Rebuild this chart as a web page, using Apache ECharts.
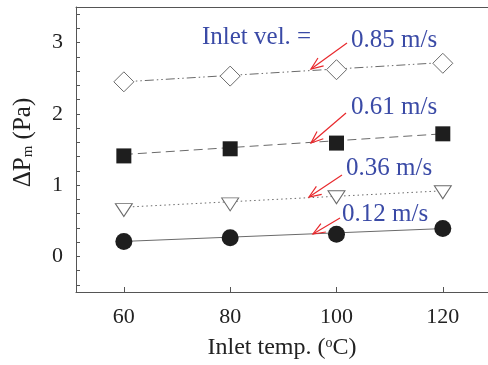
<!DOCTYPE html>
<html><head><meta charset="utf-8">
<script src="https://cdn.jsdelivr.net/npm/echarts@6/dist/echarts.min.js"></script>
<style>html,body{margin:0;padding:0;background:#fff}#c{width:488px;height:365px}</style>
</head><body><div id="c"></div>
<script>
// ---- data ----
var temps = [60, 80, 100, 120];
var dp085 = [2.45, 2.53, 2.62, 2.71];
var dp061 = [1.41, 1.51, 1.59, 1.72];
var dp036 = [0.65, 0.73, 0.83, 0.90];
var dp012 = [0.21, 0.26, 0.31, 0.39];
// fitted trend lines (end values)
var fitX = [60, 120];
var fit085 = [2.45, 2.72];
var fit061 = [1.43, 1.72];
var fit036 = [0.69, 0.92];
var fit012 = [0.21, 0.39];
var xTickLabels = [60, 80, 100, 120];
var yTickLabels = [0, 1, 2, 3];
var yTicks = [-0.4, -0.2, 0, 0.2, 0.4, 0.6, 0.8, 1, 1.2, 1.4, 1.6, 1.8, 2, 2.2, 2.4, 2.6, 2.8, 3, 3.2, 3.4];
var velLabels = ['0.85 m/s', '0.61 m/s', '0.36 m/s', '0.12 m/s'];

function pairs(xs, ys) { return xs.map(function (x, i) { return [x, ys[i]]; }); }

var FONT = 'Liberation Serif';
var AX = '#555';
var chart = echarts.init(document.getElementById('c'));

function lineSeries(ys, dash) {
  return { type: 'line', data: pairs(fitX, ys), symbol: 'none', z: 1, silent: true,
    lineStyle: { color: '#6a6a6a', width: 1, type: dash } };
}

var option = {
  animation: false,
  grid: { left: 76, right: 0, top: 7, bottom: 72 },
  xAxis: [{
    type: 'value', min: 51, max: 128.5, position: 'bottom',
    axisLine: { show: true, onZero: false, lineStyle: { color: AX, width: 1 } },
    axisTick: { show: true, inside: true, length: 5, customValues: xTickLabels, lineStyle: { color: AX } },
    axisLabel: { customValues: xTickLabels, fontFamily: FONT, fontSize: 22, color: '#222', margin: 14 },
    splitLine: { show: false },
    name: '{a|Inlet temp. (}{s|o}{a|C)}', nameLocation: 'middle', nameGap: 44,
    nameTextStyle: { rich: {
      a: { fontFamily: FONT, fontSize: 24, color: '#222' },
      s: { fontFamily: FONT, fontSize: 14, color: '#222', verticalAlign: 'top' } } }
  }, {
    type: 'value', min: 51, max: 128.5, position: 'top',
    axisLine: { show: true, onZero: false, lineStyle: { color: AX, width: 1 } },
    axisTick: { show: false }, axisLabel: { show: false }, splitLine: { show: false }
  }],
  yAxis: {
    type: 'value', min: -0.5, max: 3.5,
    axisLine: { show: true, onZero: false, lineStyle: { color: AX, width: 1 } },
    axisTick: { show: true, inside: true, length: 4, customValues: yTicks, lineStyle: { color: AX } },
    axisLabel: { customValues: yTickLabels, fontFamily: FONT, fontSize: 22, color: '#222', margin: 13 },
    splitLine: { show: false },
    name: '{a|ΔP}{s|m}{a| (Pa)}', nameLocation: 'middle', nameGap: 40, nameRotate: 90,
    nameTextStyle: { padding: [0, 0, 0, 14], rich: {
      a: { fontFamily: FONT, fontSize: 25, color: '#222' },
      s: { fontFamily: FONT, fontSize: 15, color: '#222', verticalAlign: 'bottom' } } }
  },
  series: [
    lineSeries(fit085, [9, 3, 1.5, 3, 1.5, 3]),
    lineSeries(fit061, [9, 5]),
    lineSeries(fit036, [1.5, 3]),
    lineSeries(fit012, 'solid'),
    { type: 'scatter', data: pairs(temps, dp085), symbol: 'diamond', symbolSize: [20, 20], z: 3,
      itemStyle: { color: '#fff', borderColor: '#6a6a6a', borderWidth: 1, opacity: 1 } },
    { type: 'scatter', data: pairs(temps, dp061), symbol: 'rect', symbolSize: 15, z: 3,
      itemStyle: { color: '#1e1e1e', opacity: 1 } },
    { type: 'scatter', data: pairs(temps, dp036), symbol: 'triangle', symbolRotate: 180, symbolSize: [17, 13], z: 3,
      itemStyle: { color: '#fff', borderColor: '#6a6a6a', borderWidth: 1, opacity: 1 } },
    { type: 'scatter', data: pairs(temps, dp012), symbol: 'circle', symbolSize: 17, z: 3,
      itemStyle: { color: '#1e1e1e', opacity: 1 } }
  ]
};
chart.setOption(option);

// annotations
var BLUE = '#3a4aa6', RED = '#e8282c';
function txt(s, x, y) {
  return { type: 'text', x: x, y: y, z: 10, style: { text: s, fill: BLUE, font: '25px "Liberation Serif"', textVerticalAlign: 'middle' } };
}
function arrow(x1, y1, x2, y2) {
  var ang = Math.atan2(y1 - y2, x1 - x2), L = 13, a = 0.38;
  var h1 = [x2 + L * Math.cos(ang + a), y2 + L * Math.sin(ang + a)];
  var h2 = [x2 + L * Math.cos(ang - a), y2 + L * Math.sin(ang - a)];
  return [
    { type: 'polyline', z: 10, shape: { points: [[x1, y1], [x2, y2]] }, style: { stroke: RED, lineWidth: 1.2, fill: null } },
    { type: 'polyline', z: 10, shape: { points: [h1, [x2, y2], h2] }, style: { stroke: RED, lineWidth: 1.2, fill: null } }
  ];
}
var g = [txt('Inlet vel. =', 202, 37), txt(velLabels[0], 351, 40), txt(velLabels[1], 351, 107),
  txt(velLabels[2], 346, 168), txt(velLabels[3], 342, 214)];
g = g.concat(arrow(347, 43, 311, 69), arrow(346, 113, 311, 143), arrow(342, 175, 309, 197), arrow(340, 218, 313, 234));
chart.setOption({ graphic: g });
</script></body></html>
